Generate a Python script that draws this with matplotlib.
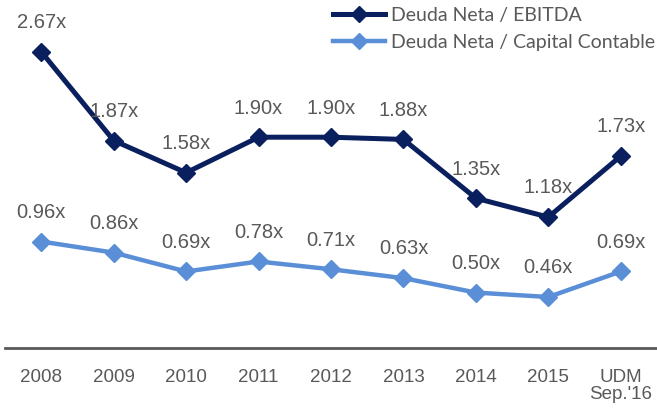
import matplotlib
matplotlib.use("Agg")
import matplotlib.pyplot as plt
from matplotlib.lines import Line2D

# datos
categorias = ["2008", "2009", "2010", "2011", "2012", "2013", "2014", "2015", "UDM\nSep.'16"]
deuda_ebitda = [2.67, 1.87, 1.58, 1.90, 1.90, 1.88, 1.35, 1.18, 1.73]
deuda_capital = [0.96, 0.86, 0.69, 0.78, 0.71, 0.63, 0.50, 0.46, 0.69]
nombres = ["Deuda Neta / EBITDA", "Deuda Neta / Capital Contable"]

azul_oscuro = "#0A1F5E"
azul_claro = "#5A8FD8"
gris = "#595959"

plt.rcParams['font.family'] = ['Liberation Sans', 'DejaVu Sans']

fig = plt.figure(figsize=(6.57, 4.09), dpi=100)
ax = fig.add_axes([0.0076, 0.149, 0.9924, 0.814])

x = list(range(len(categorias)))
ax.plot(x, deuda_ebitda, color=azul_oscuro, lw=3.6, marker="D", ms=9, zorder=3)
ax.plot(x, deuda_capital, color=azul_claro, lw=3.2, marker="D", ms=9, zorder=3)

for serie in (deuda_ebitda, deuda_capital):
    for i, v in enumerate(serie):
        ax.annotate("%.2fx" % v, (i, v), xytext=(0, 21), textcoords="offset points",
                    ha="center", va="center", fontsize=14.5, color=gris)

ax.set_xlim(-0.5, 8.5)
ax.set_ylim(0, 3.0)
ax.set_xticks(x)
ax.set_xticklabels(categorias, fontsize=13.5, color=gris, linespacing=1.0)
ax.tick_params(axis="x", length=0, pad=15)
ax.set_yticks([])
for s in ["top", "left", "right"]:
    ax.spines[s].set_visible(False)
ax.spines["bottom"].set_color(gris)
ax.spines["bottom"].set_linewidth(2)

handles = [Line2D([], [], color=azul_oscuro, lw=3.6, marker="D", ms=8),
           Line2D([], [], color=azul_claro, lw=3.2, marker="D", ms=8)]
leg = fig.legend(handles, nombres, loc="upper left", bbox_to_anchor=(0.48, 1.025),
                 frameon=False, handlelength=2.7, handletextpad=0.3, labelspacing=0.5,
                 prop={"family": "Lato", "size": 14})
for t in leg.get_texts():
    t.set_color(gris)

fig.savefig("out.png", dpi=100)
